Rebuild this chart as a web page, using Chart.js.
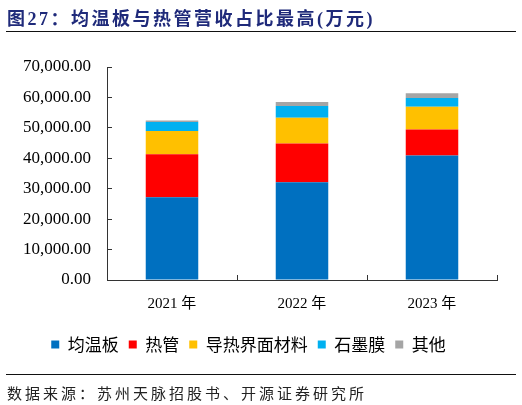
<!DOCTYPE html>
<html>
<head>
<meta charset="utf-8">
<script src="https://cdn.jsdelivr.net/npm/chart.js@4/dist/chart.umd.min.js"></script>
<style>
    html, body { margin: 0; padding: 0; background: #fff; }
    #wrap { position: relative; width: 522px; height: 405px; overflow: hidden; }
    #title {
        position: absolute; left: 7px; top: 4px;
        font-family: "Liberation Serif", "Noto Sans CJK SC", serif;
        font-weight: bold; font-size: 18px; letter-spacing: 2.5px;
        color: #1f2a7a; white-space: nowrap;
    }
    .rule { position: absolute; left: 6px; width: 510px; height: 0; border-top: 1.5px solid #111; }
    #source {
        position: absolute; left: 7px; top: 382px;
        font-family: "Noto Sans CJK SC", sans-serif;
        font-size: 15px; letter-spacing: 3px; color: #222; white-space: nowrap;
    }
    canvas { position: absolute; left: 0; top: 0; }
</style>
</head>
<body>
<div id="wrap">
    <canvas id="revChart" width="522" height="405"></canvas>
    <div id="title">图27：均温板与热管营收占比最高(万元)</div>
    <div class="rule" style="top:31px"></div>
    <div class="rule" style="top:374px"></div>
    <div id="source">数据来源：苏州天脉招股书、开源证券研究所</div>
</div>
<script>
// 年份
const years = ['2021 年', '2022 年', '2023 年'];

// 各业务营收 (万元)
const vaporChamber = [27200, 32100, 40900];   // 均温板
const heatPipe = [14100, 12800, 8600];        // 热管
const thermalMaterial = [7700, 8400, 7400];   // 导热界面材料
const graphiteFilm = [2900, 3900, 2900];      // 石墨膜
const others = [500, 1300, 1600];             // 其他

const yTicks = [0, 10000, 20000, 30000, 40000, 50000, 60000, 70000];

const axisColor = '#333';

const ctx = document.getElementById('revChart').getContext('2d');

const data = {
    labels: years,
    datasets: [
        { label: '均温板', data: vaporChamber, backgroundColor: '#0070C0' },
        { label: '热管', data: heatPipe, backgroundColor: '#FF0000' },
        { label: '导热界面材料', data: thermalMaterial, backgroundColor: '#FFC000' },
        { label: '石墨膜', data: graphiteFilm, backgroundColor: '#00B0F0' },
        { label: '其他', data: others, backgroundColor: '#A5A5A5' },
    ],
};

const config = {
    type: 'bar',
    data: data,
    options: {
        responsive: false,
        animation: false,
        devicePixelRatio: 1,
        categoryPercentage: 1,
        barPercentage: 0.404,
        layout: {
            padding: { top: 67, right: 25, bottom: 42, left: 0 },
        },
        plugins: {
            tooltip: { enabled: false },
            legend: {
                position: 'bottom',
                labels: {
                    boxWidth: 8,
                    boxHeight: 8,
                    padding: 10,
                    color: '#000',
                    font: { family: '"Noto Sans CJK SC", sans-serif', size: 17 },
                },
            },
        },
        scales: {
            x: {
                stacked: true,
                offset: true,
                grid: {
                    offset: true,
                    drawOnChartArea: false,
                    tickLength: -5,
                    color: axisColor,
                },
                border: { display: true, color: axisColor, width: 1 },
                ticks: {
                    padding: 20,
                    color: '#000',
                    font: { family: '"Liberation Serif", "Noto Sans CJK SC", serif', size: 15 },
                },
                afterFit: (scale) => { scale.height = 46; },
            },
            y: {
                stacked: true,
                min: 0,
                max: 70000,
                grid: {
                    drawOnChartArea: false,
                    tickLength: -5,
                    color: axisColor,
                },
                border: { display: true, color: axisColor, width: 1 },
                afterBuildTicks: (scale) => {
                    scale.ticks = yTicks.map(v => ({ value: v }));
                },
                ticks: {
                    padding: 21,
                    color: '#000',
                    font: { family: '"Liberation Serif", serif', size: 17 },
                    callback: (v) => Number(v).toLocaleString('en-US', { minimumFractionDigits: 2, maximumFractionDigits: 2 }),
                },
                afterFit: (scale) => { scale.width = 107; },
            },
        },
    },
};

const revChart = new Chart(ctx, config);
</script>
</body>
</html>
